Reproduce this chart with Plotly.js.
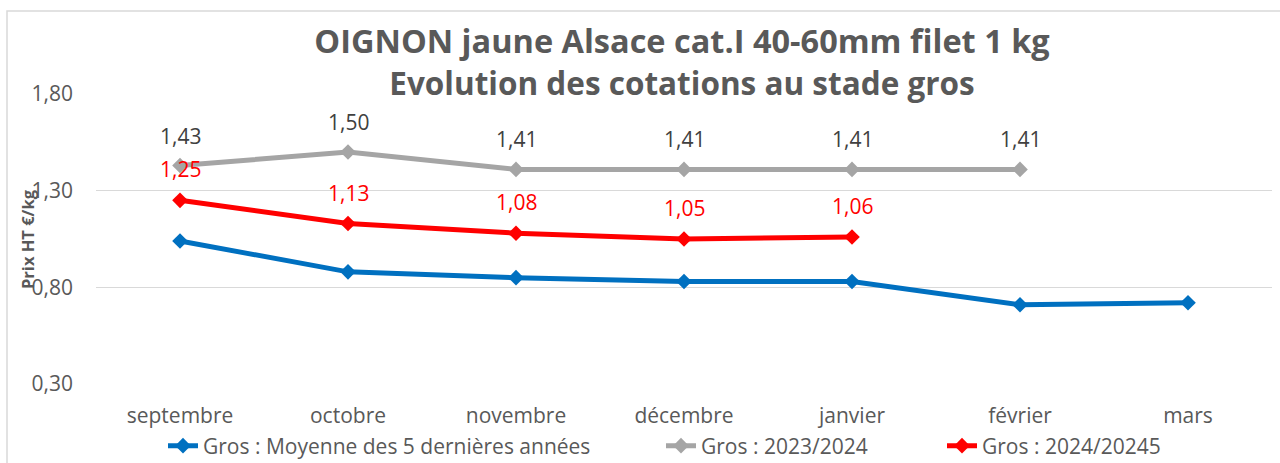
<!DOCTYPE html>
<html>
<head>
<meta charset="utf-8">
<script src="https://cdn.plot.ly/plotly-3.0.1.min.js"></script>
<style>html,body{margin:0;padding:0;background:#fff}#chart{width:1280px;height:463px}</style>
</head>
<body>
<div id="chart"></div>
<script>
const months = ['septembre','octobre','novembre','décembre','janvier','février','mars'];
const moyenne5 = [1.04, 0.88, 0.85, 0.83, 0.83, 0.71, 0.72];
const gros2324 = [1.43, 1.50, 1.41, 1.41, 1.41, 1.41];
const gros2425 = [1.25, 1.13, 1.08, 1.05, 1.06];
const seriesNames = ['Gros : Moyenne des 5 dernières années', 'Gros : 2023/2024', 'Gros : 2024/20245'];
const yTicks = [0.30, 0.80, 1.30, 1.80];
const titleLine1 = 'OIGNON jaune Alsace cat.I 40-60mm filet 1 kg';
const titleLine2 = 'Evolution des cotations au stade gros';
const yTitle = 'Prix HT €/kg';

const FONT = '"Open Sans", Lato, sans-serif';
const TXT = '#595959';

function mk(name, ys, color, legendId) {
  return {
    type: 'scatter', mode: 'lines+markers', name: name, legend: legendId,
    x: months.slice(0, ys.length), y: ys,
    line: {color: color, width: 5},
    marker: {symbol: 'diamond', size: 12, color: color},
    hoverinfo: 'skip'
  };
}
const traces = [
  mk(seriesNames[0], moyenne5, '#0070C0', 'legend'),
  mk(seriesNames[1], gros2324, '#A5A5A5', 'legend2'),
  mk(seriesNames[2], gros2425, '#FF0000', 'legend3')
];

const fmt = v => v.toFixed(2).replace('.', ',');
const annotations = [];
gros2324.forEach((v, i) => annotations.push({
  x: months[i], y: v, xref: 'x', yref: 'y', text: fmt(v), showarrow: false,
  yshift: 30, font: {family: FONT, size: 21, color: '#404040'}
}));
gros2425.forEach((v, i) => annotations.push({
  x: months[i], y: v, xref: 'x', yref: 'y', text: fmt(v), showarrow: false,
  yshift: 31, font: {family: FONT, size: 21, color: '#FF0000'}
}));
annotations.push({
  x: (27 - 96) / 1176, y: 0.5, xref: 'paper', yref: 'paper', xanchor: 'center', yanchor: 'middle',
  textangle: -90, text: '<b>' + yTitle + '</b>', showarrow: false,
  font: {family: FONT, size: 16.5, color: TXT}
});

const legendBase = {
  orientation: 'h', xref: 'container', yref: 'container', xanchor: 'left', yanchor: 'middle',
  y: 1 - 446 / 463, font: {family: FONT, size: 21, color: TXT}, bgcolor: 'rgba(0,0,0,0)'
};

const layout = {
  width: 1280, height: 463,
  margin: {l: 96, r: 8, t: 94, b: 79},
  paper_bgcolor: '#ffffff', plot_bgcolor: '#ffffff',
  separators: ',.',
  showlegend: true,
  title: {
    text: '<b>' + titleLine1 + '</b><br><b><span style="font-size:31.5px">' + titleLine2 + '</span></b>',
    x: 682 / 1280, xref: 'container', xanchor: 'center',
    y: 1 - 53 / 463, yref: 'container', yanchor: 'middle',
    font: {family: FONT, size: 32.5, color: TXT}
  },
  xaxis: {
    type: 'category', categoryorder: 'array', categoryarray: months,
    range: [-0.5, 6.5], showgrid: false, zeroline: false, showline: false,
    ticks: '', ticklabelstandoff: 17, automargin: false,
    tickfont: {family: FONT, size: 21, color: TXT}
  },
  yaxis: {
    range: [0.3, 1.8], tickvals: yTicks, tickformat: '.2f', automargin: false,
    showgrid: true, gridcolor: '#D9D9D9', gridwidth: 1.5,
    zeroline: false, showline: false, ticks: '', ticklabelstandoff: 22,
    tickfont: {family: FONT, size: 21, color: TXT}
  },
  legend: Object.assign({}, legendBase, {x: 163 / 1280}),
  legend2: Object.assign({}, legendBase, {x: 661 / 1280}),
  legend3: Object.assign({}, legendBase, {x: 942 / 1280}),
  shapes: [{
    type: 'rect', xref: 'paper', yref: 'paper',
    x0: (7 - 96) / 1176, x1: 1.2, y0: -0.6, y1: (384 - 11) / 290,
    line: {color: '#D9D9D9', width: 1.5}, fillcolor: 'rgba(0,0,0,0)', layer: 'below'
  }, {
    type: 'rect', xref: 'paper', yref: 'paper',
    x0: (386 - 96) / 1176, x1: (990 - 96) / 1176, y0: 0.985, y1: 1.02,
    line: {width: 0}, fillcolor: '#ffffff', layer: 'above'
  }],
  annotations: annotations
};

Plotly.newPlot('chart', traces, layout, {displayModeBar: false, staticPlot: true});
</script>
</body>
</html>
